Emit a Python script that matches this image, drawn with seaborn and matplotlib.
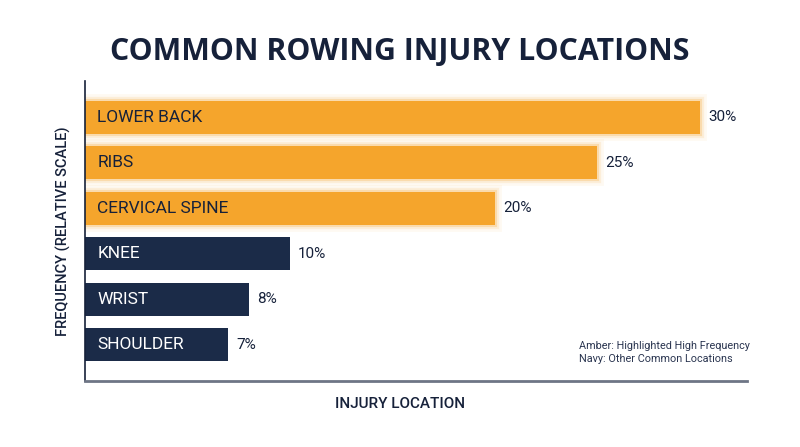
import matplotlib
matplotlib.use("Agg")
import matplotlib.pyplot as plt
import matplotlib.patheffects as pe
import seaborn as sns
import pandas as pd

# dados
locais = ["LOWER BACK", "RIBS", "CERVICAL SPINE", "KNEE", "WRIST", "SHOULDER"]
valores = [30, 25, 20, 10, 8, 7]
grupos = ["amber", "amber", "amber", "navy", "navy", "navy"]

AMBER = "#F5A52C"
NAVY = "#1B2B48"
TEXTO = "#16213A"

df = pd.DataFrame({"local": locais, "valor": valores, "grupo": grupos})

sns.set_theme(style="white")
plt.rcParams["font.family"] = ["Roboto", "DejaVu Sans"]

fig = plt.figure(figsize=(8, 4.47), dpi=100)
ax = fig.add_axes([0.10625, 0.1477, 0.8275, 0.6711])

sns.barplot(data=df, x="valor", y="local", hue="grupo",
            palette={"amber": AMBER, "navy": NAVY}, dodge=False,
            width=0.72, legend=False, ax=ax, saturation=1)

# brilho suave nas barras amber
for patch, g in zip(ax.patches, grupos):
    patch.set_edgecolor("none")
    if g == "amber":
        patch.set_path_effects([
            pe.Stroke(linewidth=10, foreground=AMBER, alpha=0.06),
            pe.Stroke(linewidth=6, foreground=AMBER, alpha=0.12),
            pe.Stroke(linewidth=3, foreground=AMBER, alpha=0.25),
            pe.Normal(),
        ])

# rótulos dentro e valores à direita
for i, (nome, v, g) in enumerate(zip(locais, valores, grupos)):
    cor = TEXTO if g == "amber" else "white"
    ax.text(0.6, i, nome, va="center", ha="left", fontsize=12.5, color=cor)
    ax.text(v + 0.4, i, f"{v}%", va="center", ha="left", fontsize=11, color=TEXTO)

ax.set_xlim(0, 32.3)
ax.set_ylim(5.8, -0.8)
ax.set_xticks([])
ax.set_yticks([])
ax.set_xlabel("")
ax.set_ylabel("FREQUENCY (RELATIVE SCALE)", fontsize=10.5, color=TEXTO,
              fontweight="medium", labelpad=10)

for lado in ["top", "right"]:
    ax.spines[lado].set_visible(False)
ax.spines["left"].set_color(TEXTO)
ax.spines["left"].set_linewidth(1.2)
ax.spines["bottom"].set_color("#6E7585")
ax.spines["bottom"].set_linewidth(2)

fig.text(0.5, 0.884, "COMMON ROWING INJURY LOCATIONS", ha="center", va="center",
         fontsize=21.8, fontweight="bold", color=TEXTO, family=["Open Sans", "DejaVu Sans"])
fig.text(0.5, 0.096, "INJURY LOCATION", ha="center", va="center",
         fontsize=11, fontweight="medium", color=TEXTO)

# legenda em texto
ax.text(0.746, 0.095, "Amber: Highlighted High Frequency\nNavy: Other Common Locations",
        transform=ax.transAxes, ha="left", va="center", fontsize=7.8,
        color="#2A3550", linespacing=1.3)

fig.savefig("out.png", dpi=100, facecolor="white")
